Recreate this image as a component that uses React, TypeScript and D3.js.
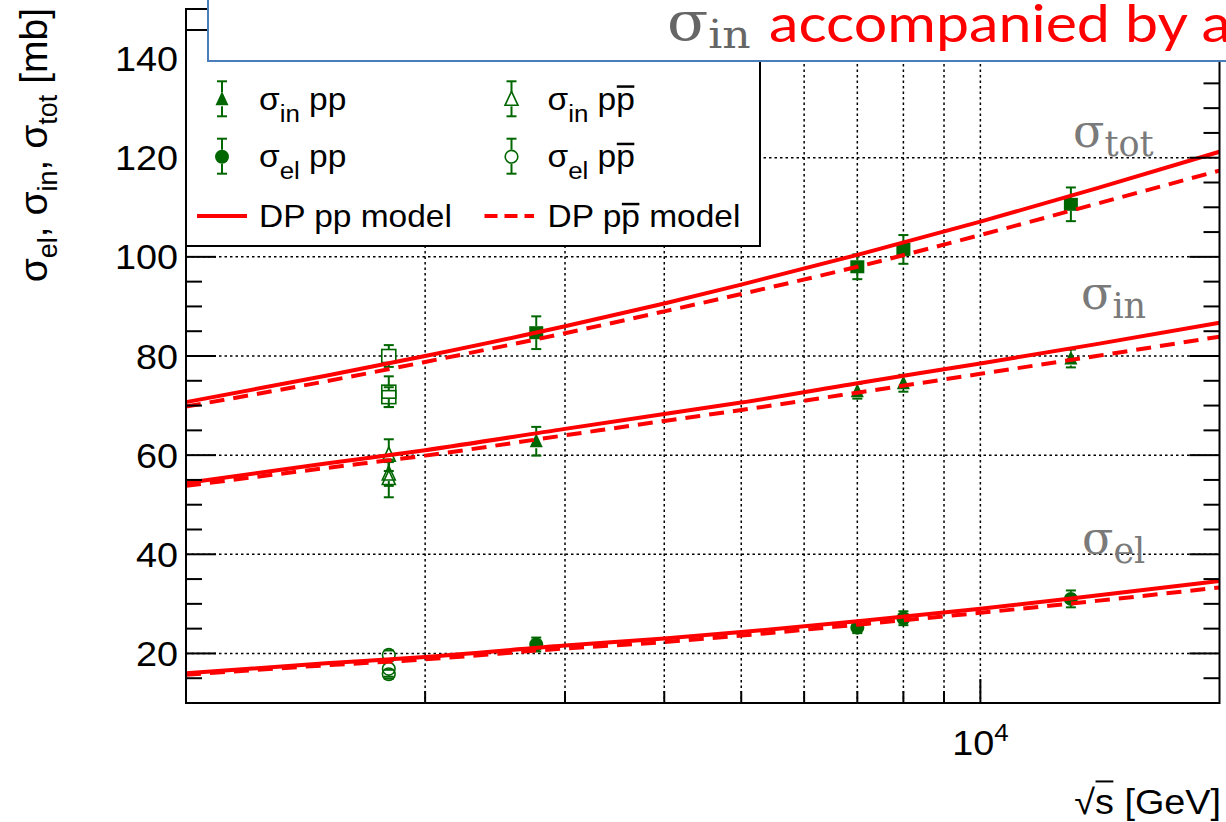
import React, { useEffect, useRef } from 'react';
import * as d3 from 'd3';

// ---- DP model curves, sampled at these √s values [GeV] ----
const modelEnergies = [1000, 1500, 2000, 3000, 4000, 5000, 7000, 10000, 14000, 20000];
const dpTotPP = [70.7, 76.0, 80.0, 86.0, 90.6, 94.4, 100.4, 107.1, 113.8, 121.2];
const dpTotPPbar = [69.8, 74.9, 78.8, 84.6, 89.0, 92.5, 98.0, 104.4, 110.7, 117.4];
const dpInPP = [54.4, 58.3, 61.0, 65.3, 68.3, 70.6, 74.5, 78.5, 82.4, 86.7];
const dpInPPbar = [53.8, 57.4, 59.9, 64.0, 66.9, 69.1, 72.6, 76.4, 80.0, 83.9];
const dpElPP = [16.0, 18.0, 19.3, 21.6, 23.0, 24.3, 26.5, 29.0, 31.7, 34.6];
const dpElPPbar = [15.7, 17.6, 18.8, 21.0, 22.3, 23.6, 25.8, 28.2, 30.6, 33.3];

// ---- measurements: [√s GeV, σ mb, error mb] ----
const totPP = [[2760, 84.7, 3.3], [7000, 98.0, 2.5], [8000, 101.5, 2.9], [13000, 110.6, 3.4]];
const totPPbar = [[1800, 80.0, 2.2], [1800, 72.8, 3.1], [1800, 71.7, 2.0]];
const inPP = [[2760, 62.8, 2.9], [7000, 72.9, 1.5], [8000, 74.5, 1.7], [13000, 79.5, 1.8]];
const inPPbar = [[1800, 60.0, 3.2], [1800, 56.2, 2.4], [1800, 55.3, 3.8]];
const elPP = [[2760, 21.8, 1.4], [7000, 25.2, 1.1], [8000, 27.1, 1.4], [13000, 31.0, 1.7]];
const elPPbar = [[1800, 19.7, 0.9], [1800, 16.9, 1.6], [1800, 15.8, 0.9]];

// ---- axes ----
const xDomain = [1000, 20000];
const yDomain = [10, 150];
const yMajorTicks = [20, 40, 60, 80, 100, 120, 140];
const yMinorTicks = [15, 25, 30, 35, 45, 50, 55, 65, 70, 75, 85, 90, 95, 105, 110, 115, 125, 130, 135, 145];
const xMinorTicks = [2000, 3000, 4000, 5000, 6000, 7000, 8000, 9000];
const xMajorTicks = [10000];

const GREEN = '#006600';
const RED = '#ff0000';
const GRAY = '#7a7a7a';
const SANS = "'Liberation Sans', Arial, Helvetica, sans-serif";
const SERIF = "'DejaVu Serif', serif";

const PL = 186, PR = 1219.5, PT = 9, PB = 703;

type Part = { t: string; size?: number; shift?: number; over?: number; fill?: string };

function richText(parent: any, x: number, y: number, parts: Part[], o: any) {
  const tf = `translate(${x},${y})` + (o.rotate ? ` rotate(${o.rotate})` : '') + (o.sx ? ` scale(${o.sx},1)` : '');
  const g = parent.append('g').attr('transform', tf);
  const text = g.append('text')
    .attr('font-family', o.family)
    .attr('font-size', o.size)
    .attr('fill', o.fill)
    .attr('text-anchor', o.anchor || 'start')
    .style('white-space', 'pre');
  let cur = 0;
  let idx = 0;
  const overs: any[] = [];
  parts.forEach((p) => {
    const shift = p.shift || 0;
    const ts = text.append('tspan').attr('dy', shift - cur).text(p.t);
    if (p.size) ts.attr('font-size', p.size);
    if (p.fill) ts.attr('fill', p.fill);
    cur = shift;
    if (p.over) overs.push({ start: idx, len: p.t.length, size: p.size || o.size, shift, k: p.over });
    idx += p.t.length;
  });
  if (o.textLength) text.attr('textLength', o.textLength).attr('lengthAdjust', 'spacingAndGlyphs');
  const node = text.node();
  overs.forEach((ov) => {
    const a = node.getExtentOfChar(ov.start);
    const b = node.getExtentOfChar(ov.start + ov.len - 1);
    const yb = ov.shift - ov.size * ov.k;
    g.append('line')
      .attr('x1', a.x + 0.5).attr('x2', b.x + b.width - 0.5)
      .attr('y1', yb).attr('y2', yb)
      .attr('stroke', o.fill).attr('stroke-width', o.overWidth || 2.5);
  });
  return g;
}

type Shape = 'square' | 'triangle' | 'circle';
const HALF: Record<Shape, number> = { square: 6.5, triangle: 7, circle: 7 };

function marker(parent: any, cx: number, cy: number, shape: Shape, filled: boolean) {
  const fill = filled ? GREEN : 'none';
  const sw = filled ? 0 : 1.6;
  if (shape === 'square') {
    parent.append('rect').attr('x', cx - 7).attr('y', cy - 6.5).attr('width', 14).attr('height', 13)
      .attr('fill', fill).attr('stroke', GREEN).attr('stroke-width', sw);
  } else if (shape === 'triangle') {
    parent.append('path').attr('d', `M${cx},${cy - 8}L${cx + 6.5},${cy + 6}L${cx - 6.5},${cy + 6}Z`)
      .attr('fill', fill).attr('stroke', GREEN).attr('stroke-width', sw);
  } else {
    parent.append('circle').attr('cx', cx).attr('cy', cy).attr('r', filled ? 7 : 6.3)
      .attr('fill', fill).attr('stroke', GREEN).attr('stroke-width', sw);
  }
}

function errorBar(parent: any, cx: number, cy: number, yHi: number, yLo: number, shape: Shape) {
  const h = HALF[shape];
  const seg = (x1: number, y1: number, x2: number, y2: number) => {
    parent.append('line').attr('x1', x1).attr('y1', y1).attr('x2', x2).attr('y2', y2)
      .attr('stroke', GREEN).attr('stroke-width', 2);
  };
  if (cy - h > yHi) seg(cx, yHi, cx, cy - h);
  if (cy + h < yLo) seg(cx, cy + h, cx, yLo);
  seg(cx - 5, yHi, cx + 5, yHi);
  seg(cx - 5, yLo, cx + 5, yLo);
}

function draw(svgEl: SVGSVGElement) {
  const svg = d3.select(svgEl);
  svg.selectAll('*').remove();

  const x = d3.scaleLog().domain(xDomain).range([PL, PR]);
  const y = d3.scaleLinear().domain(yDomain).range([PB, PT]);

  svg.append('rect').attr('width', 1226).attr('height', 822).attr('fill', '#fff');

  // grid
  const grid = svg.append('g').attr('stroke', '#000').attr('stroke-width', 1.5).attr('stroke-dasharray', '2.5,3');
  yMajorTicks.forEach((v) => {
    grid.append('line').attr('x1', PL).attr('x2', PR).attr('y1', y(v)).attr('y2', y(v));
  });
  [...xMinorTicks, ...xMajorTicks].forEach((v) => {
    grid.append('line').attr('x1', x(v)).attr('x2', x(v)).attr('y1', PT).attr('y2', PB);
  });

  // data points
  const pts = svg.append('g');
  const series: [number[][], Shape, boolean][] = [
    [totPPbar, 'square', false], [inPPbar, 'triangle', false], [elPPbar, 'circle', false],
    [totPP, 'square', true], [inPP, 'triangle', true], [elPP, 'circle', true],
  ];
  series.forEach(([data, shape, filled]) => {
    data.forEach(([s, v, e]) => {
      errorBar(pts, x(s), y(v), y(v + e), y(v - e), shape);
      marker(pts, x(s), y(v), shape, filled);
    });
  });

  // model curves
  const line = d3.line<number>()
    .x((_, i) => x(modelEnergies[i]))
    .y((d) => y(d))
    .curve(d3.curveMonotoneX);
  const curves = svg.append('g').attr('fill', 'none').attr('stroke', RED).attr('stroke-width', 4);
  [dpTotPP, dpInPP, dpElPP].forEach((c) => curves.append('path').attr('d', line(c)));
  [dpTotPPbar, dpInPPbar, dpElPPbar].forEach((c) =>
    curves.append('path').attr('d', line(c)).attr('stroke-dasharray', '15,9'));

  // frame and ticks
  const ax = svg.append('g').attr('stroke', '#000').attr('stroke-width', 2);
  ax.append('rect').attr('x', PL).attr('y', PT).attr('width', PR - PL).attr('height', PB - PT).attr('fill', 'none');
  yMajorTicks.forEach((v) => {
    ax.append('line').attr('x1', PL).attr('x2', PL + 30).attr('y1', y(v)).attr('y2', y(v));
    ax.append('line').attr('x1', PR).attr('x2', PR - 30).attr('y1', y(v)).attr('y2', y(v));
  });
  yMinorTicks.forEach((v) => {
    ax.append('line').attr('x1', PL).attr('x2', PL + 16).attr('y1', y(v)).attr('y2', y(v));
    ax.append('line').attr('x1', PR).attr('x2', PR - 16).attr('y1', y(v)).attr('y2', y(v));
  });
  xMinorTicks.forEach((v) => {
    ax.append('line').attr('x1', x(v)).attr('x2', x(v)).attr('y1', PB).attr('y2', PB - 12);
  });
  xMajorTicks.forEach((v) => {
    ax.append('line').attr('x1', x(v)).attr('x2', x(v)).attr('y1', PB).attr('y2', PB - 24);
  });

  // tick labels
  yMajorTicks.forEach((v) => {
    richText(svg, 178, y(v) + 12.5, [{ t: String(v) }], { family: SANS, size: 35, fill: '#000', anchor: 'end', sx: 1.08 });
  });
  xMajorTicks.forEach((v) => {
    const exp = Math.round(Math.log10(v));
    richText(svg, x(v), 755, [{ t: '10' }, { t: String(exp), size: 24, shift: -14 }],
      { family: SANS, size: 35, fill: '#000', anchor: 'middle', sx: 1.08 });
  });

  // axis titles
  richText(svg, 1221, 814, [{ t: '√' }, { t: 's', over: 0.93 }, { t: ' [GeV]' }],
    { family: SANS, size: 35, fill: '#000', anchor: 'end', sx: 1.08, overWidth: 2 });
  richText(svg, 47, 8, [
    { t: 'σ' }, { t: 'el', size: 27, shift: 10 }, { t: ', σ' }, { t: 'in', size: 27, shift: 10 },
    { t: ', σ' }, { t: 'tot', size: 27, shift: 10 }, { t: ' [mb]' },
  ], { family: SANS, size: 39, fill: '#000', anchor: 'end', rotate: -90 });

  // legend
  const lg = svg.append('g');
  lg.append('rect').attr('x', PL).attr('y', 30).attr('width', 760 - PL).attr('height', 246 - 30)
    .attr('fill', '#fff').attr('stroke', '#000').attr('stroke-width', 2);
  const legendRows: [Shape, boolean, number, number, string][] = [
    ['triangle', true, 222, 99.3, 'in'], ['circle', true, 222, 156.7, 'el'],
    ['triangle', false, 511.5, 99.3, 'in'], ['circle', false, 511.5, 156.7, 'el'],
  ];
  legendRows.forEach(([shape, filled, mx, my, sub]) => {
    errorBar(lg, mx, my, my - 18, my + 17, shape);
    marker(lg, mx, my, shape, filled);
    const tx = filled ? 259 : 547.5;
    const parts: Part[] = filled
      ? [{ t: 'σ' }, { t: sub, size: 24, shift: 12 }, { t: ' pp' }]
      : [{ t: 'σ' }, { t: sub, size: 24, shift: 12 }, { t: ' p' }, { t: 'p', over: 0.74 }];
    richText(lg, tx, my + 10.2, parts, { family: SANS, size: 31, fill: '#000', sx: 1.08 });
  });
  lg.append('line').attr('x1', 197).attr('x2', 247).attr('y1', 216).attr('y2', 216)
    .attr('stroke', RED).attr('stroke-width', 4);
  lg.append('line').attr('x1', 484.5).attr('x2', 534).attr('y1', 216).attr('y2', 216)
    .attr('stroke', RED).attr('stroke-width', 4).attr('stroke-dasharray', '13,7');
  richText(lg, 259, 227, [{ t: 'DP pp model' }], { family: SANS, size: 31, fill: '#000', sx: 1.08 });
  richText(lg, 547.5, 227, [{ t: 'DP p' }, { t: 'p', over: 0.74 }, { t: ' model' }],
    { family: SANS, size: 31, fill: '#000', sx: 1.08 });

  // curve labels
  const curveLabels: [string, number, number][] = [['tot', 1073, 147], ['in', 1081, 308.5], ['el', 1082, 554]];
  curveLabels.forEach(([sub, lx, ly]) => {
    richText(svg, lx, ly, [{ t: 'σ' }, { t: sub, size: 35, shift: 9 }], { family: SERIF, size: 46, fill: GRAY });
  });

  // headline box
  svg.append('rect').attr('x', 208).attr('y', -10).attr('width', 1100).attr('height', 71)
    .attr('fill', '#fff').attr('stroke', '#4a7ebb').attr('stroke-width', 2);
  richText(svg, 667, 40, [{ t: 'σ' }, { t: 'in', size: 40, shift: 8 }], { family: SERIF, size: 55, fill: '#666', sx: 1.1 });
  richText(svg, 769, 42, [{ t: 'accompanied by a' }],
    { family: "Lato, 'Open Sans', sans-serif", size: 52, fill: RED, textLength: 462 });
}

export default function App() {
  const ref = useRef<SVGSVGElement>(null);
  useEffect(() => {
    if (ref.current) draw(ref.current);
  }, []);
  return (
    <svg ref={ref} width={1226} height={822}
      style={{ display: 'block', position: 'absolute', left: 0, top: 0 }} />
  );
}
